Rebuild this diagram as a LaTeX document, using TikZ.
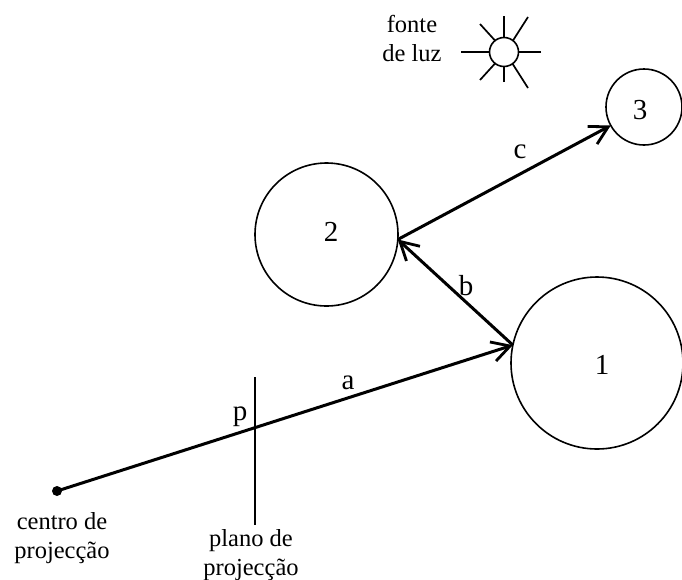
\documentclass[tikz,border=0pt]{standalone}
\usepackage{fontspec}
\setmainfont{Liberation Serif}
\usetikzlibrary{arrows.meta}
\tikzset{
  x=1pt,y=-1pt,
  ball/.style={circle,draw,line width=1.6pt,inner sep=0pt,outer sep=0pt,minimum size=#1},
  conn/.style={line width=3pt,-{Straight Barb[length=18pt,width=20pt,line width=2.8pt]},shorten >=0pt},
  thin line/.style={line width=1.7pt},
  lbl/.style={inner sep=0pt,font=\fontsize{29}{29}\selectfont},
  small lbl/.style={inner sep=0pt,align=center,font=\fontsize{24.5}{29}\selectfont}
}
\begin{document}
\begin{tikzpicture}
\useasboundingbox (0,0) rectangle (682,579);
\node[ball=172pt] (c1) at (597,363) {};
\node[ball=143pt] (c2) at (326.5,234.5) {};
\node[ball=76pt] (c3) at (644,107) {};
\node[ball=29pt] (sun) at (504,52) {};
\node[lbl] (n1) at (602,365) {1};
\node[lbl] (n2) at (331,232) {2};
\node[lbl] (n3) at (640,110) {3};
\node[circle,fill,inner sep=0pt,minimum size=10pt] (o) at (57,491) {};
\coordinate (pt) at (255,377);
\coordinate (pb) at (255,525);
\draw[thin line] (pt) -- (pb);
\draw[conn] (o.center) -- (c1.168);
\draw[conn] (c1.168) -- (c2.-4);
\draw[conn] (c2.-4) -- (c3.209);
\coordinate (r1) at (461,52); \coordinate (r2) at (541,52);
\coordinate (r3) at (504,16); \coordinate (r4) at (504,82);
\coordinate (r5) at (480,24); \coordinate (r6) at (528,17);
\coordinate (r7) at (480,80); \coordinate (r8) at (528,88);
\foreach \r/\a in {r1/180,r2/0,r3/90,r4/270,r5/128,r6/52,r7/232,r8/306}
  \draw[thin line] (\r) -- (sun.\a);
\node[small lbl,anchor=base] (flabel) at (412,61) {fonte\\de luz};
\node[lbl,anchor=base] (la) at (348,389) {a};
\node[lbl,anchor=base] (lb) at (466,295) {b};
\node[lbl,anchor=base] (lc) at (520,158) {c};
\node[lbl,anchor=base] (lp) at (240,420) {p};
\node[small lbl,anchor=base] (lcentro) at (62,558) {centro de\\projecção};
\node[small lbl,anchor=base] (lplano) at (251,575) {plano de\\projecção};
\end{tikzpicture}
\end{document}
